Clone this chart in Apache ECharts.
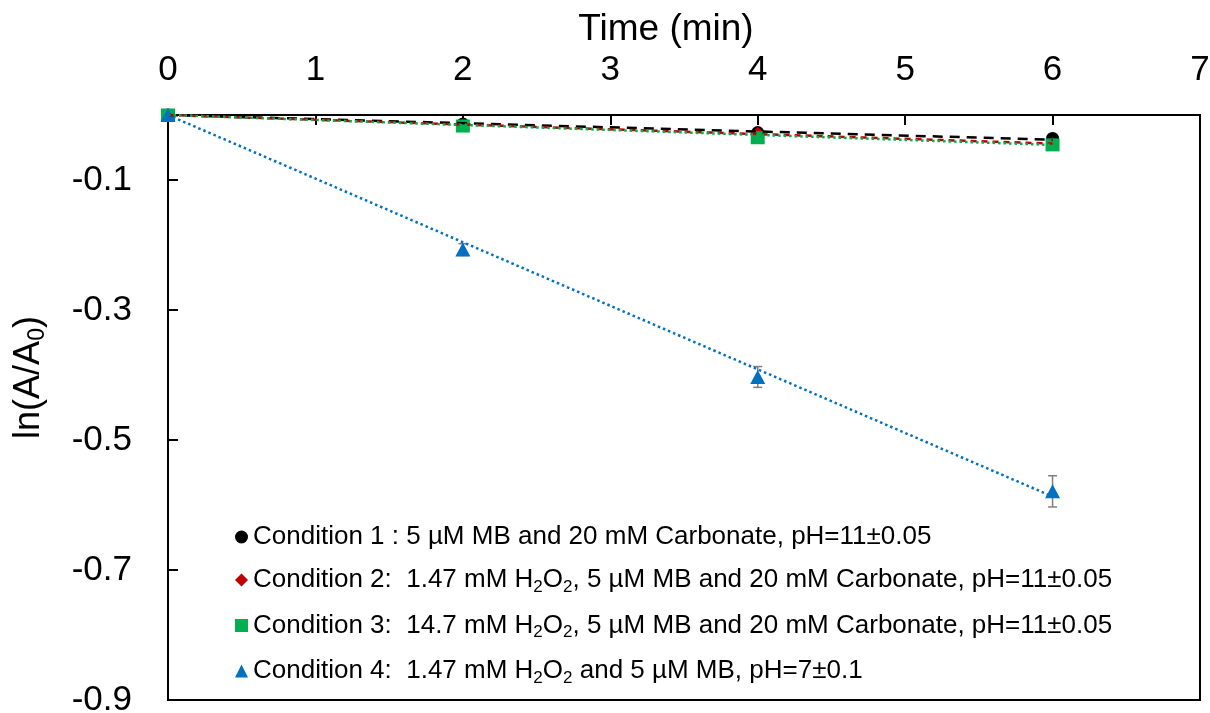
<!DOCTYPE html>
<html><head><meta charset="utf-8">
<script src="https://cdn.jsdelivr.net/npm/echarts@6/dist/echarts.min.js"></script>
<style>html,body{margin:0;padding:0;background:#fff}#c{width:1210px;height:713px}</style>
</head><body><div id="c"></div>
<script>
const times = [0, 2, 4, 6];
const cond1 = [0, -0.014, -0.027, -0.036];
const cond2 = [0, -0.016, -0.028, -0.044];
const cond3 = [0, -0.017, -0.035, -0.046];
const cond4 = [0, -0.207, -0.403, -0.579];
const err4 = [0, 0.009, 0.016, 0.024];
const trendX = [0, 6];
const trend1 = [0, -0.038];
const trend2 = [0, -0.044];
const trend3 = [0, -0.046];
const trend4 = [0, -0.587];
const yTicks = [-0.1, -0.3, -0.5, -0.7, -0.9];
const names = [
  'Condition 1 : 5 µM MB and 20 mM Carbonate, pH=11±0.05',
  'Condition 2:  1.47 mM H2O2, 5 µM MB and 20 mM Carbonate, pH=11±0.05',
  'Condition 3:  14.7 mM H2O2, 5 µM MB and 20 mM Carbonate, pH=11±0.05',
  'Condition 4:  1.47 mM H2O2 and 5 µM MB, pH=7±0.1'
];
const colors = ['#000000', '#C00000', '#00B050', '#0070C0'];
const FONT = "'Liberation Sans', Arial, sans-serif";

const pairs = (xs, ys) => xs.map((x, i) => [x, ys[i]]);

function legendRich(name) {
  const parts = name.split('H2O2');
  return parts.map(p => '{n|' + p + '}').join('{n|H}{s|2}{n|O}{s|2}');
}

const chart = echarts.init(document.getElementById('c'));
chart.setOption({
  animation: false,
  backgroundColor: '#fff',
  textStyle: { fontFamily: FONT, color: '#000' },
  grid: { left: 168, right: 10, top: 115, bottom: 13, show: true, borderColor: '#000', borderWidth: 2, outerBoundsMode: 'none', containLabel: false },
  xAxis: {
    type: 'value', min: 0, max: 7, interval: 1, position: 'top',
    name: 'Time (min)', nameLocation: 'middle', nameGap: 62,
    nameTextStyle: { fontSize: 37, fontFamily: FONT, color: '#000', padding: [0, 36, 0, 0] },
    axisLine: { onZero: false, lineStyle: { color: '#000', width: 2 } },
    axisTick: { inside: true, length: 10, lineStyle: { color: '#000', width: 2 } },
    axisLabel: { fontSize: 35, fontFamily: FONT, color: '#000', margin: 27 },
    splitLine: { show: false }
  },
  yAxis: {
    type: 'value', min: -0.9, max: 0,
    name: '{a|ln(A/A}{b|0}{a|)}', nameLocation: 'middle', nameGap: 117, nameRotate: 90,
    nameTextStyle: { padding: [0, 0, 0, 60], rich: {
      a: { fontSize: 36, fontFamily: FONT, color: '#000', lineHeight: 44 },
      b: { fontSize: 23, fontFamily: FONT, color: '#000', lineHeight: 28, padding: [18, 0, 0, 0] }
    } },
    axisLine: { onZero: false, lineStyle: { color: '#000', width: 2 } },
    axisTick: { inside: true, length: 10, customValues: yTicks, lineStyle: { color: '#000', width: 2 } },
    axisLabel: { fontSize: 35, fontFamily: FONT, color: '#000', margin: 36, customValues: yTicks, formatter: v => v.toFixed(1) },
    splitLine: { show: false }
  },
  legend: {
    orient: 'vertical', left: 230, top: 519, itemGap: 17, itemWidth: 13, itemHeight: 13,
    data: [
      { name: names[0], icon: 'circle' },
      { name: names[1], icon: 'diamond' },
      { name: names[2], icon: 'rect' },
      { name: names[3], icon: 'triangle' }
    ],
    formatter: legendRich,
    itemStyle: { opacity: 1 },
    textStyle: { rich: {
      n: { fontSize: 26, fontFamily: FONT, color: '#000' },
      s: { fontSize: 17, fontFamily: FONT, color: '#000', padding: [14, 0, 0, 0] }
    } }
  },
  series: [
    { name: names[0], type: 'scatter', symbol: 'circle', symbolSize: 13, itemStyle: { color: colors[0], opacity: 1 }, data: pairs(times, cond1), z: 2 },
    { name: names[1], type: 'scatter', symbol: 'diamond', symbolSize: 13, itemStyle: { color: colors[1], opacity: 1 }, data: pairs(times, cond2), z: 2 },
    { name: names[2], type: 'scatter', symbol: 'rect', symbolSize: [14, 13], itemStyle: { color: colors[2], opacity: 1 }, data: pairs(times, cond3), z: 2 },
    {
      name: 'err4', type: 'custom', z: 1,
      data: times.map((t, i) => [t, cond4[i], err4[i]]),
      renderItem: (params, api) => {
        const x = api.value(0), y = api.value(1), e = api.value(2);
        if (!e) return null;
        const top = api.coord([x, y + e]);
        const bot = api.coord([x, y - e]);
        const w = 4.5;
        const st = { stroke: '#7F7F7F', lineWidth: 1.5 };
        return { type: 'group', children: [
          { type: 'line', shape: { x1: top[0], y1: top[1], x2: bot[0], y2: bot[1] }, style: st },
          { type: 'line', shape: { x1: top[0] - w, y1: top[1], x2: top[0] + w, y2: top[1] }, style: st },
          { type: 'line', shape: { x1: bot[0] - w, y1: bot[1], x2: bot[0] + w, y2: bot[1] }, style: st }
        ] };
      }
    },
    { name: names[3], type: 'scatter', symbol: 'triangle', symbolSize: [15, 14], itemStyle: { color: colors[3], opacity: 1 }, data: pairs(times, cond4), z: 3 },
    { name: 't1', type: 'line', symbol: 'none', z: 4, lineStyle: { color: colors[0], width: 2.5, type: [10, 7] }, data: pairs(trendX, trend1) },
    { name: 't2', type: 'line', symbol: 'none', z: 4, lineStyle: { color: colors[1], width: 2.5, type: [6, 5] }, data: pairs(trendX, trend2) },
    { name: 't3', type: 'line', symbol: 'none', z: 4, lineStyle: { color: colors[2], width: 2.5, type: [2.5, 3] }, data: pairs(trendX, trend3) },
    { name: 't4', type: 'line', symbol: 'none', z: 4, lineStyle: { color: colors[3], width: 2.5, type: [2.5, 3] }, data: pairs(trendX, trend4) }
  ]
});
</script></body></html>
